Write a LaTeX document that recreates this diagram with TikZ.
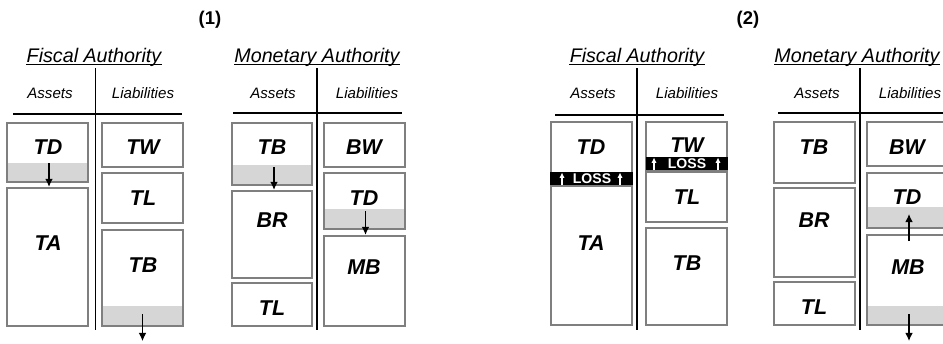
\documentclass[tikz,border=0pt]{standalone}
\usepackage{fontspec}
\setmainfont{Liberation Sans}
\usetikzlibrary{arrows.meta,fit}
\definecolor{edgegrey}{HTML}{7F7F7F}
\definecolor{shadegrey}{HTML}{D6D6D6}

\tikzset{
  acct/.style={draw=edgegrey, line width=1.3pt, inner sep=0pt},
  item/.style={font=\fontsize{12.2}{14}\selectfont\bfseries\itshape},
  side/.style={font=\fontsize{8.6}{10}\selectfont\itshape},
  owner/.style={font=\fontsize{11.2}{13}\selectfont\itshape, inner sep=0pt, anchor=base},
  panel/.style={font=\fontsize{10.5}{12}\selectfont\bfseries},
  tee/.style={line width=0.9pt},
  flow/.style={-{Latex[length=4.6pt,width=4.4pt]}, line width=0.7pt},
  lossbar/.style={fill=black, inner sep=0pt},
  lossword/.style={text=white, font=\fontsize{8}{9}\selectfont\bfseries, inner sep=0pt},
  lossup/.style={white, -{Latex[length=3pt,width=3pt]}, line width=0.8pt},
}

\begin{document}
\begin{tikzpicture}[x=0.02cm, y=-0.02cm]
  \useasboundingbox (0,0) rectangle (943,343);

  % ── Panel headings ──
  \node[panel] (p1) at (210,20) {(1)};
  \node[panel] (p2) at (748,20) {(2)};

  % ── (1) Fiscal Authority ──
  \node[owner] (aHead) at (94,62.7) {Fiscal Authority};
  \draw[line width=0.6pt] ([yshift=-1pt]aHead.base west) -- ([yshift=-1pt]aHead.base east);
  \draw[tee] (95.7,68) -- (95.7,330);
  \draw[tee] (13,114) -- (182,114);
  \node[side] at (50,93) {Assets};
  \node[side] at (143,93) {Liabilities};
  % shaded parts
  \fill[shadegrey] (7,163) rectangle (88,182);
  \fill[shadegrey] (102,306) rectangle (183,326);
  % boxes
  \node[acct, fit={(7,123) (88,182)}] (aTD) {};
  \node[acct, fit={(7,188) (88,326)}] (aTA) {};
  \node[acct, fit={(102,123) (183,167)}] (aTW) {};
  \node[acct, fit={(102,173) (183,223)}] (aTL) {};
  \node[acct, fit={(102,230) (183,326)}] (aTB) {};
  \node[item] at (48,147) {TD};
  \node[item] at (48,243) {TA};
  \node[item] at (143,147) {TW};
  \node[item] at (143,198) {TL};
  \node[item] at (143,265) {TB};
  % flows
  \coordinate (aTDg) at (49,163);
  \coordinate (aTBg) at (142.5,314);
  \coordinate (aOut) at (142.5,341);
  \draw[flow] (aTDg) -- (aTDg |- aTA.north);
  \draw[flow] (aTBg) -- (aOut);

  % ── (1) Monetary Authority ──
  \node[owner] (bHead) at (317,62.7) {Monetary Authority};
  \draw[line width=0.6pt] ([yshift=-1pt]bHead.base west) -- ([yshift=-1pt]bHead.base east);
  \draw[tee] (317,68) -- (317,330);
  \draw[tee] (233,113) -- (402,113);
  \node[side] at (273,93) {Assets};
  \node[side] at (367,93) {Liabilities};
  \fill[shadegrey] (232,165) rectangle (312,185);
  \fill[shadegrey] (324,209) rectangle (405,229);
  \node[acct, fit={(232,123) (312,185)}] (bTB) {};
  \node[acct, fit={(232,191) (312,278)}] (bBR) {};
  \node[acct, fit={(232,283) (312,326)}] (bTL) {};
  \node[acct, fit={(324,123) (405,167)}] (bBW) {};
  \node[acct, fit={(324,173) (405,229)}] (bTD) {};
  \node[acct, fit={(324,236) (405,326)}] (bMB) {};
  \node[item] at (272,147) {TB};
  \node[item] at (272,220) {BR};
  \node[item] at (272,308) {TL};
  \node[item] at (364,147) {BW};
  \node[item] at (364,198) {TD};
  \node[item] at (364,267) {MB};
  \coordinate (bTBg) at (274,167);
  \coordinate (bTDg) at (365.5,211);
  \draw[flow] (bTBg) -- (bTBg |- bBR.north);
  \draw[flow] (bTDg) -- (bTDg |- bMB.north);

  % ── (2) Fiscal Authority ──
  \node[owner] (cHead) at (637,62.7) {Fiscal Authority};
  \draw[line width=0.6pt] ([yshift=-1pt]cHead.base west) -- ([yshift=-1pt]cHead.base east);
  \draw[tee] (637,68) -- (637,330);
  \draw[tee] (555,115) -- (724,115);
  \node[side] at (593,93) {Assets};
  \node[side] at (687,93) {Liabilities};
  \node[acct, fit={(551,122) (632,185)}] (cTD) {};
  \node[acct, fit={(551,186) (632,325)}] (cTA) {};
  \node[acct, fit={(646,122) (727,170)}] (cTW) {};
  \node[acct, fit={(646,172) (727,222)}] (cTL) {};
  \node[acct, fit={(646,228) (727,325)}] (cTB) {};
  \node[item] at (591,147) {TD};
  \node[item] at (591,243) {TA};
  \node[item] at (687,145) {TW};
  \node[item] at (687,197) {TL};
  \node[item] at (687,263) {TB};
  % loss bands
  \node[lossbar, fit={(549.5,172) (632.5,185)}] (cLossA) {};
  \node[lossbar, fit={(645.5,157) (727.5,170)}] (cLossB) {};
  \node[lossword] at (592,178.5) {LOSS};
  \node[lossword] at (687,163.5) {LOSS};
  \draw[lossup] (562,185) -- (562,172.5);
  \draw[lossup] (620,185) -- (620,172.5);
  \draw[lossup] (654,170) -- (654,157.5);
  \draw[lossup] (718,170) -- (718,157.5);

  % ── (2) Monetary Authority ──
  \node[owner] (dHead) at (857,62.7) {Monetary Authority};
  \draw[line width=0.6pt] ([yshift=-1pt]dHead.base west) -- ([yshift=-1pt]dHead.base east);
  \draw[tee] (860,68) -- (860,330);
  \draw[tee] (778,113) -- (950,113);
  \node[side] at (817,93) {Assets};
  \node[side] at (910,93) {Liabilities};
  \fill[shadegrey] (867,207) rectangle (948,228);
  \fill[shadegrey] (867,306) rectangle (948,325);
  \node[acct, fit={(774,122) (855,183)}] (dTB) {};
  \node[acct, fit={(774,188) (855,277)}] (dBR) {};
  \node[acct, fit={(774,282) (855,325)}] (dTL) {};
  \node[acct, fit={(867,122) (948,166)}] (dBW) {};
  \node[acct, fit={(867,173) (948,228)}] (dTD) {};
  \node[acct, fit={(867,235) (948,325)}] (dMB) {};
  \node[item] at (814,147) {TB};
  \node[item] at (814,220) {BR};
  \node[item] at (814,307) {TL};
  \node[item] at (907,147) {BW};
  \node[item] at (907,197) {TD};
  \node[item] at (908,267) {MB};
  \coordinate (dUpA) at (909,241);
  \coordinate (dUpB) at (909,214);
  \coordinate (dMBg) at (909,314);
  \coordinate (dOut) at (909,341);
  \draw[flow] (dUpA) -- (dUpB);
  \draw[flow] (dMBg) -- (dOut);

\end{tikzpicture}
\end{document}
